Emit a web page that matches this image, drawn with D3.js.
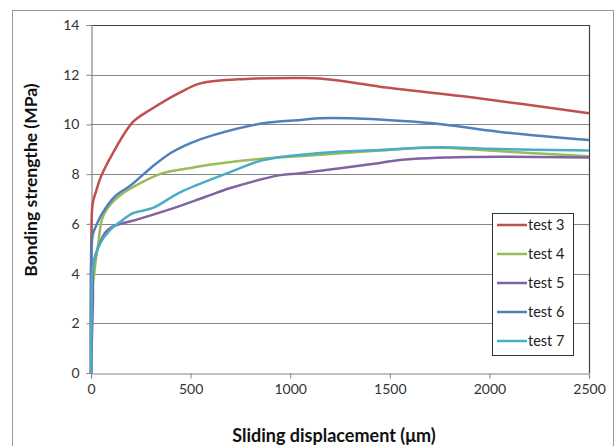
<!DOCTYPE html>
<html><head><meta charset="utf-8">
<script src="https://cdn.jsdelivr.net/npm/d3@7"></script>
<style>body{margin:0;background:#fff}svg{display:block}</style>
</head><body>
<script>
const seriesNames = ["test 3","test 4","test 5","test 6","test 7"];
const seriesColors = ["#C0504D","#9BBB59","#8064A2","#4F81BD","#4BACC6"];
const test3 = [[0,0],[2,5.5],[8,6.8],[25,7.3],[50,7.9],[110,8.85],[211,10.1],[300,10.6],[450,11.3],[550,11.65],[780,11.83],[1050,11.87],[1150,11.85],[1300,11.7],[1450,11.52],[1900,11.1],[2500,10.45]];
const test4 = [[0,0],[3,3.0],[15,3.9],[25,4.6],[37,5.23],[54,6.15],[80,6.6],[155,7.2],[250,7.65],[360,8.04],[500,8.25],[614,8.4],[900,8.65],[1100,8.75],[1450,8.95],[1700,9.07],[1900,9.0],[2200,8.85],[2500,8.72]];
const test5 = [[0,0],[5,1.5],[10,3.0],[12,4.4],[37,5.07],[70,5.63],[104,5.87],[150,6.0],[221,6.15],[387,6.56],[572,7.08],[700,7.44],[950,7.96],[1050,8.04],[1450,8.45],[1550,8.57],[1900,8.69],[2500,8.67]];
const test6 = [[0,0],[3,5.0],[10,5.6],[30,6.0],[55,6.4],[120,7.1],[200,7.55],[300,8.25],[400,8.85],[500,9.25],[614,9.57],[865,10.05],[1050,10.18],[1150,10.25],[1300,10.25],[1450,10.2],[1717,10.05],[2053,9.7],[2500,9.37]];
const test7 = [[0,0],[3,2.5],[10,4.26],[45,5.2],[95,5.75],[145,6.07],[211,6.43],[311,6.64],[447,7.27],[698,8.08],[865,8.57],[1150,8.85],[1450,8.97],[1750,9.08],[2000,9.02],[2500,8.95]];
const xTicks = [0,500,1000,1500,2000,2500];
const yTicks = [0,2,4,6,8,10,12,14];
const xTitle = "Sliding displacement (\u03bcm)";
const yTitle = "Bonding strengthe (MPa)";

const allSeries = [test3,test4,test5,test6,test7];
const W=615,H=446;
const svg=d3.select("body").append("svg").attr("width",W).attr("height",H);
const font="Lato, 'Open Sans', sans-serif";

svg.append("rect").attr("x",12.5).attr("y",10.5).attr("width",601).attr("height",450)
  .attr("fill","#fff").attr("stroke","#9a9a9a").attr("stroke-width",1);

const x=d3.scaleLinear().domain([0,2500]).range([91,589]);
const y=d3.scaleLinear().domain([0,14]).range([373,25]);

svg.append("g").selectAll("line").data(yTicks.filter(d=>d>0)).join("line")
  .attr("x1",x(0)).attr("x2",x(2500)).attr("y1",d=>Math.round(y(d))+0.5).attr("y2",d=>Math.round(y(d))+0.5)
  .attr("stroke","#868686").attr("stroke-width",1);

svg.append("path").attr("d",`M${x(0)},${Math.round(y(14))+0.5}H${x(2500)+0.5}V${y(0)}`)
  .attr("fill","none").attr("stroke","#404040").attr("stroke-width",1.2);

const xAxis=d3.axisBottom(x).tickValues(xTicks).tickSize(5).tickPadding(6).tickFormat(d3.format("d"));
const gx=svg.append("g").attr("transform",`translate(0,${Math.round(y(0))+0.5})`).call(xAxis);
const yAxis=d3.axisLeft(y).tickValues(yTicks).tickSize(5).tickPadding(7).tickFormat(d3.format("d"));
const gy=svg.append("g").attr("transform",`translate(${Math.round(x(0))+0.5},0)`).call(yAxis);
[gx,gy].forEach(g=>{
  g.select(".domain").attr("stroke","#868686").attr("stroke-width",1.2);
  g.selectAll(".tick line").attr("stroke","#868686");
  g.selectAll(".tick text").attr("font-family",font).attr("font-size",14).attr("fill","#333");
});

const line=d3.line().x(d=>x(d[0])).y(d=>y(d[1])).curve(d3.curveCatmullRom.alpha(0.5));
svg.append("g").selectAll("path").data(allSeries).join("path")
  .attr("d",line).attr("fill","none").attr("stroke",(d,i)=>seriesColors[i])
  .attr("stroke-width",2.5).attr("stroke-linejoin","round");

svg.append("text").attr("x",334).attr("y",442).attr("text-anchor","middle")
  .attr("font-family",font).attr("font-weight","bold").attr("font-size",18).attr("fill","#111").text(xTitle);
svg.append("text").attr("transform","translate(37,180) rotate(-90)").attr("text-anchor","middle")
  .attr("font-family",font).attr("font-weight","bold").attr("font-size",17.5).attr("fill","#111").text(yTitle);

const lg=svg.append("g");
lg.append("rect").attr("x",492.5).attr("y",213.5).attr("width",81).attr("height",142)
  .attr("fill","#fff").attr("stroke","#333").attr("stroke-width",1);
seriesNames.forEach((n,i)=>{
  const yy=225+i*29;
  lg.append("line").attr("x1",497).attr("x2",527).attr("y1",yy).attr("y2",yy)
    .attr("stroke",seriesColors[i]).attr("stroke-width",2.5);
  lg.append("text").attr("x",528).attr("y",yy+5).attr("font-family",font).attr("font-size",14.5)
    .attr("fill","#222").text(n);
});
</script>
</body></html>
